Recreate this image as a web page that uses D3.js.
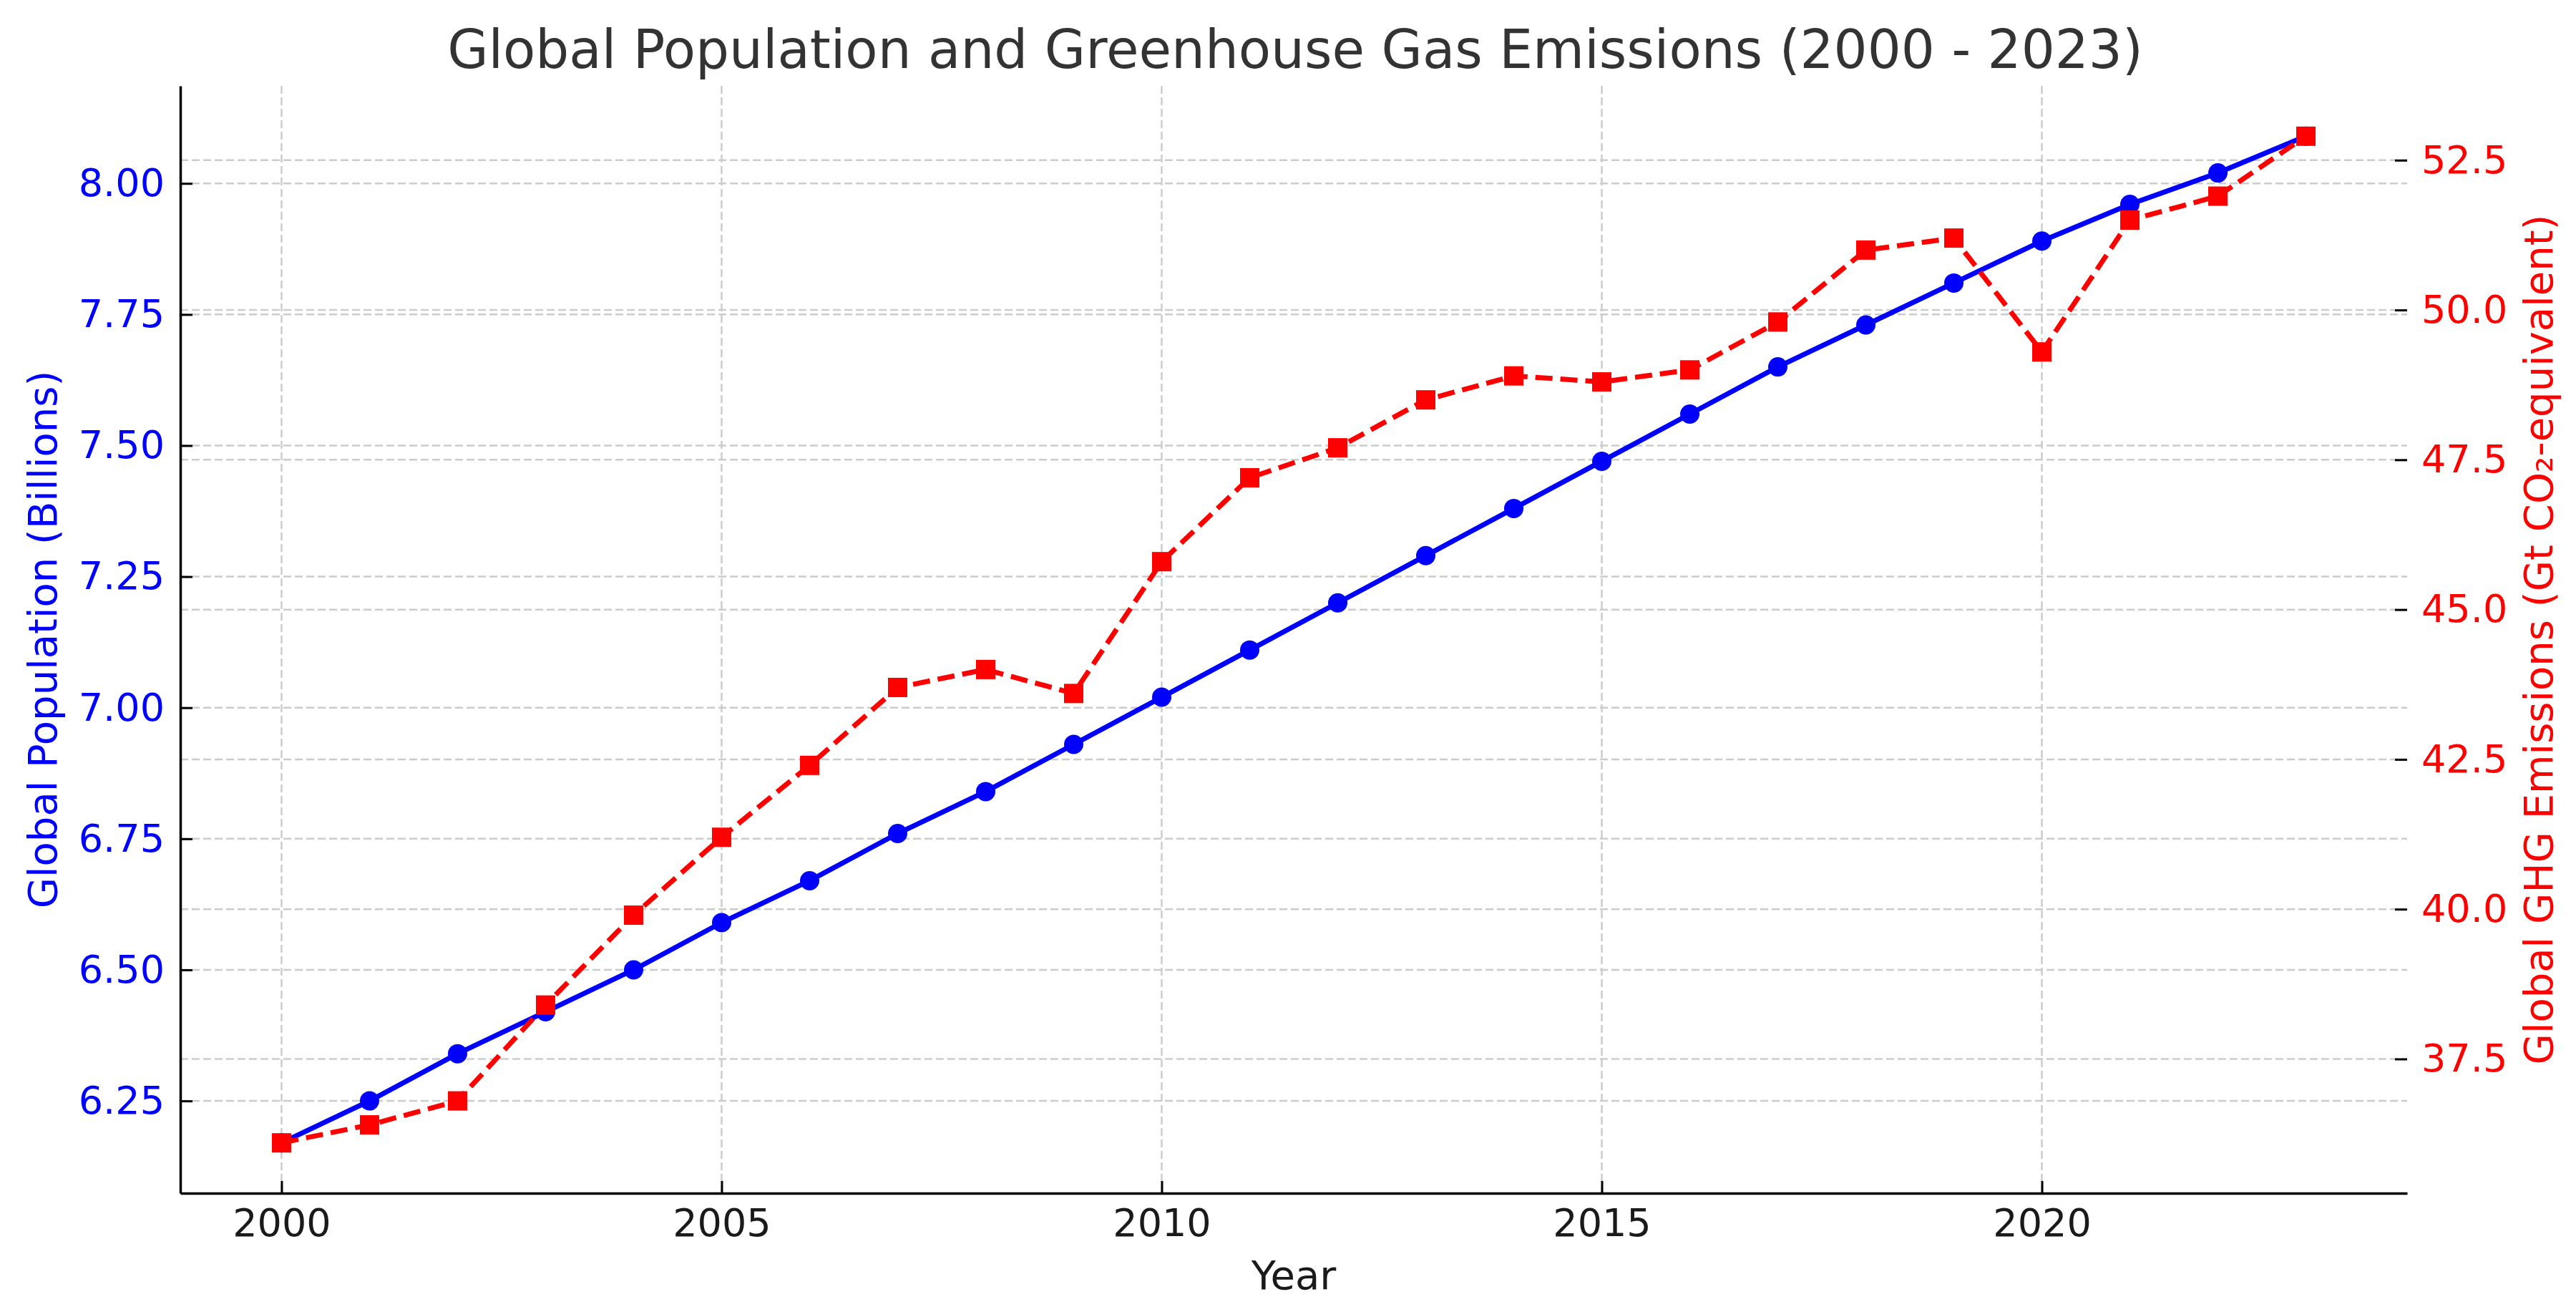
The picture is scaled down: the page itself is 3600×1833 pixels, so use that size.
<!DOCTYPE html>
<html>
<head>
<meta charset="utf-8">
<script src="https://cdn.jsdelivr.net/npm/d3@7"></script>
<style>
  html, body { margin: 0; padding: 0; background: #ffffff; }
  svg { display: block; font-family: "DejaVu Sans", sans-serif; }
</style>
</head>
<body>
<svg id="chart" width="3600" height="1833"></svg>
<script>
// ---- data ----
const years = [2000, 2001, 2002, 2003, 2004, 2005, 2006, 2007, 2008, 2009, 2010, 2011,
               2012, 2013, 2014, 2015, 2016, 2017, 2018, 2019, 2020, 2021, 2022, 2023];
const population = [6.17, 6.25, 6.34, 6.42, 6.50, 6.59, 6.67, 6.76, 6.84, 6.93, 7.02, 7.11,
                    7.20, 7.29, 7.38, 7.47, 7.56, 7.65, 7.73, 7.81, 7.89, 7.96, 8.02, 8.09];
const ghgEmissions = [36.1, 36.4, 36.8, 38.4, 39.9, 41.2, 42.4, 43.7, 44.0, 43.6, 45.8, 47.2,
                      47.7, 48.5, 48.9, 48.8, 49.0, 49.8, 51.0, 51.2, 49.3, 51.5, 51.9, 52.9];
const yearTicks = [2000, 2005, 2010, 2015, 2020];
const popTicks = [6.25, 6.50, 6.75, 7.00, 7.25, 7.50, 7.75, 8.00];
const ghgTicks = [37.5, 40.0, 42.5, 45.0, 47.5, 50.0, 52.5];

const titleText = "Global Population and Greenhouse Gas Emissions (2000 - 2023)";
const xLabelText = "Year";
const yLeftLabelText = "Global Population (Billions)";
const yRightLabelText = "Global GHG Emissions (Gt CO\u2082-equivalent)";

// ---- layout ----
const plot = { left: 252, right: 3364, top: 120, bottom: 1667 };
const BLUE = "#0000ff", RED = "#ff0000";
const GRID = "#cccccc";

function padded(ext, f) { const r = ext[1] - ext[0]; return [ext[0] - r * f, ext[1] + r * f]; }

const x = d3.scaleLinear().domain(padded(d3.extent(years), 0.05)).range([plot.left, plot.right]);
const yL = d3.scaleLinear().domain(padded(d3.extent(population), 0.05)).range([plot.bottom, plot.top]);
const yR = d3.scaleLinear().domain(padded(d3.extent(ghgEmissions), 0.05)).range([plot.bottom, plot.top]);

const svg = d3.select("#chart");
svg.append("rect").attr("width", 3600).attr("height", 1833).attr("fill", "#fff");

// ---- grid ----
const grid = svg.append("g");
grid.selectAll(".vg").data(yearTicks).enter().append("line")
  .attr("x1", d => x(d)).attr("x2", d => x(d))
  .attr("y1", plot.top).attr("y2", plot.bottom)
  .attr("stroke", GRID).attr("stroke-width", 2.5).attr("stroke-dasharray", "11,5");
grid.selectAll(".hgl").data(popTicks).enter().append("line")
  .attr("x1", plot.left).attr("x2", plot.right)
  .attr("y1", d => yL(d)).attr("y2", d => yL(d))
  .attr("stroke", GRID).attr("stroke-width", 2.5).attr("stroke-dasharray", "11,5");
grid.selectAll(".hgr").data(ghgTicks).enter().append("line")
  .attr("x1", plot.left).attr("x2", plot.right)
  .attr("y1", d => yR(d)).attr("y2", d => yR(d))
  .attr("stroke", GRID).attr("stroke-width", 2.5).attr("stroke-dasharray", "11,5");

// ---- population series ----
const popData = years.map((yr, i) => ({ yr, v: population[i] }));
const ghgData = years.map((yr, i) => ({ yr, v: ghgEmissions[i] }));

svg.append("path").datum(popData)
  .attr("fill", "none").attr("stroke", BLUE).attr("stroke-width", 7)
  .attr("stroke-linejoin", "round")
  .attr("d", d3.line().x(d => x(d.yr)).y(d => yL(d.v)));
svg.selectAll(".pm").data(popData).enter().append("circle")
  .attr("cx", d => x(d.yr)).attr("cy", d => yL(d.v)).attr("r", 13.5).attr("fill", BLUE);

// ---- GHG series ----
svg.append("path").datum(ghgData)
  .attr("fill", "none").attr("stroke", RED).attr("stroke-width", 7)
  .attr("stroke-dasharray", "24,11")
  .attr("d", d3.line().x(d => x(d.yr)).y(d => yR(d.v)));
const sq = 27;
svg.selectAll(".gm").data(ghgData).enter().append("rect")
  .attr("x", d => x(d.yr) - sq / 2).attr("y", d => yR(d.v) - sq / 2)
  .attr("width", sq).attr("height", sq).attr("fill", RED);

// ---- axes ----
const TICK = 17;
const xAxis = svg.append("g").attr("transform", `translate(0,${plot.bottom})`)
  .call(d3.axisBottom(x).tickValues(yearTicks).tickFormat(d3.format("d"))
    .tickSizeInner(-TICK).tickSizeOuter(0).tickPadding(22));
xAxis.select(".domain").attr("stroke", "#000").attr("stroke-width", 3.5);
xAxis.selectAll(".tick line").attr("stroke", "#000").attr("stroke-width", 3);
xAxis.selectAll("text").attr("font-size", 54).attr("fill", "#1a1a1a")
  .attr("font-family", "DejaVu Sans");

const lAxis = svg.append("g").attr("transform", `translate(${plot.left},0)`)
  .call(d3.axisLeft(yL).tickValues(popTicks).tickFormat(d3.format(".2f"))
    .tickSizeInner(-TICK).tickSizeOuter(0).tickPadding(22));
lAxis.select(".domain").attr("stroke", "#000").attr("stroke-width", 3.5);
lAxis.selectAll(".tick line").attr("stroke", "#000").attr("stroke-width", 3);
lAxis.selectAll("text").attr("font-size", 54).attr("fill", BLUE)
  .attr("font-family", "DejaVu Sans");

const rAxis = svg.append("g").attr("transform", `translate(${plot.right},0)`)
  .call(d3.axisRight(yR).tickValues(ghgTicks).tickFormat(d3.format(".1f"))
    .tickSizeInner(-TICK).tickSizeOuter(0).tickPadding(20));
rAxis.select(".domain").remove();
rAxis.selectAll(".tick line").attr("stroke", "#000").attr("stroke-width", 3);
rAxis.selectAll("text").attr("font-size", 54).attr("fill", RED)
  .attr("font-family", "DejaVu Sans");

// ---- labels ----
const midX = (plot.left + plot.right) / 2;
const midY = (plot.top + plot.bottom) / 2;

svg.append("text").text(titleText)
  .attr("x", 1810).attr("y", 95).attr("text-anchor", "middle")
  .attr("font-size", 74).attr("fill", "#333333");

svg.append("text").text(xLabelText)
  .attr("x", midX).attr("y", 1801).attr("text-anchor", "middle")
  .attr("font-size", 56).attr("fill", "#1a1a1a");

svg.append("text").text(yLeftLabelText)
  .attr("transform", `translate(79,${midY}) rotate(-90)`)
  .attr("text-anchor", "middle").attr("font-size", 56).attr("fill", BLUE);

svg.append("text").text(yRightLabelText)
  .attr("transform", `translate(3567,${midY}) rotate(-90)`)
  .attr("text-anchor", "middle").attr("font-size", 56).attr("fill", RED);
</script>
</body>
</html>
